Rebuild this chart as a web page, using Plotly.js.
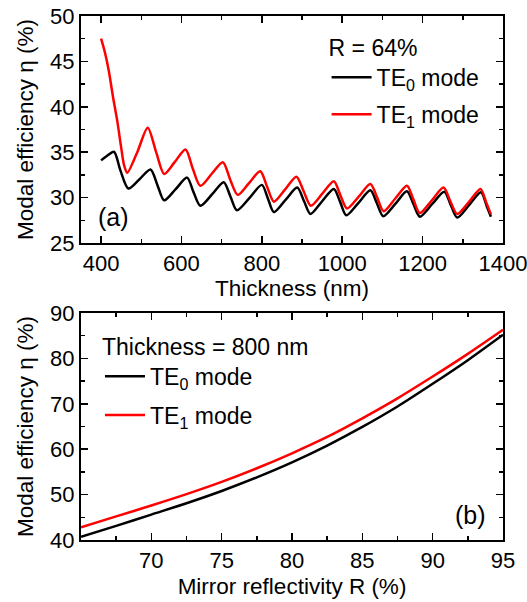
<!DOCTYPE html>
<html>
<head>
<meta charset="utf-8">
<script src="https://cdn.plot.ly/plotly-3.0.1.min.js"></script>
<style>html,body{margin:0;padding:0;background:#fff;}#chart{width:527px;height:602px;}</style>
</head>
<body>
<div id="chart"></div>
<script>
// Panel (a): modal efficiency vs thickness, R = 64%
const thicknessTE0 = [400, 415, 432, 448, 468, 495, 523, 540, 557, 585, 614, 630, 647, 677, 705, 722, 738, 770, 800, 815, 830, 860, 888, 905, 921, 950, 979, 995, 1010, 1040, 1070, 1086, 1102, 1132, 1161, 1177, 1193, 1224, 1254, 1270, 1286, 1316, 1345, 1360, 1370];
const etaTE0 = [34.1, 34.6, 35.05, 33.0, 31.0, 32.0, 33.1, 31.4, 29.7, 30.9, 32.2, 30.6, 29.1, 30.4, 31.7, 30.1, 28.6, 30.0, 31.4, 29.9, 28.4, 29.8, 31.1, 29.6, 28.2, 29.6, 30.95, 29.5, 28.05, 29.4, 30.8, 29.4, 27.95, 29.3, 30.7, 29.3, 27.9, 29.3, 30.65, 29.2, 27.8, 29.2, 30.6, 29.0, 27.9];
const thicknessTE1 = [400, 410, 419, 430, 440, 450, 457, 465, 490, 516, 537, 557, 583, 610, 628, 647, 675, 703, 721, 740, 768, 796, 813, 830, 858, 886, 904, 922, 950, 979, 995, 1012, 1041, 1070, 1087, 1103, 1132, 1161, 1177, 1193, 1223, 1252, 1269, 1286, 1315, 1344, 1358, 1370];
const etaTE1 = [47.5, 45.9, 44.0, 41.0, 38.5, 35.5, 33.6, 32.75, 35.0, 37.7, 35.0, 32.6, 33.9, 35.3, 33.2, 31.3, 32.6, 33.9, 32.0, 30.3, 31.6, 32.9, 31.2, 29.55, 30.9, 32.3, 30.7, 29.1, 30.4, 31.8, 30.3, 28.8, 30.1, 31.5, 30.0, 28.5, 29.9, 31.3, 29.8, 28.3, 29.7, 31.1, 29.6, 28.2, 29.5, 30.95, 29.5, 28.15];

// Panel (b): modal efficiency vs mirror reflectivity, thickness = 800 nm
const reflectivity = [65, 67.5, 70, 72.5, 75, 77.5, 80, 82.5, 85, 87.5, 90, 92.5, 95];
const etaTE0b = [40.7, 43.1, 45.6, 48.1, 50.8, 53.8, 57.1, 60.8, 64.9, 69.4, 74.4, 79.6, 85.2];
const etaTE1b = [42.8, 45.2, 47.6, 50.1, 52.8, 55.8, 59.1, 62.7, 66.8, 71.2, 76.0, 81.0, 86.3];

const seriesNames = ['TE<sub>0</sub> mode', 'TE<sub>1</sub> mode'];
const seriesColors = ['#000000', '#ff0000'];
const xTicksA = [400, 600, 800, 1000, 1200, 1400];
const xTicksB = [70, 75, 80, 85, 90, 95];

const FONT = 'Arial, "Liberation Sans", sans-serif';

const traces = [
  {x: thicknessTE0, y: etaTE0, xaxis: 'x', yaxis: 'y', legend: 'legend', legendgroup: 'a0', name: seriesNames[0]},
  {x: thicknessTE1, y: etaTE1, xaxis: 'x', yaxis: 'y', legend: 'legend', legendgroup: 'a1', name: seriesNames[1]},
  {x: reflectivity, y: etaTE0b, xaxis: 'x2', yaxis: 'y2', legend: 'legend2', legendgroup: 'b0', name: seriesNames[0]},
  {x: reflectivity, y: etaTE1b, xaxis: 'x2', yaxis: 'y2', legend: 'legend2', legendgroup: 'b1', name: seriesNames[1]}
].map((t, i) => Object.assign(t, {
  type: 'scatter', mode: 'lines',
  line: {color: seriesColors[i % 2], width: 2.5, shape: 'spline', smoothing: 0.8}
}));

function axisBase() {
  return {
    showline: true, linecolor: '#000', linewidth: 2, mirror: 'ticks',
    ticks: 'inside', ticklen: 7, tickwidth: 1.5, tickcolor: '#000',
    showgrid: false, zeroline: false, automargin: false,
    ticklabeloverflow: 'allow',
    tickfont: {family: FONT, size: 22, color: '#000'}
  };
}

const yTitle = 'Modal efficiency \u03b7 (%)';
const titleFont = {family: FONT, size: 22.5, color: '#000'};
const minorBase = {ticks: 'inside', ticklen: 4, tickwidth: 1.5, tickcolor: '#000', tick0: 0};

const layout = {
  width: 527, height: 602,
  margin: {l: 81, r: 24, t: 16, b: 62},
  paper_bgcolor: '#fff', plot_bgcolor: '#fff',
  font: {family: FONT, color: '#000'},
  xaxis: Object.assign(axisBase(), {
    anchor: 'y', domain: [0, 1], range: [350, 1400],
    tickvals: xTicksA,
    minor: Object.assign({dtick: 100}, minorBase),
    title: {text: 'Thickness (nm)', standoff: 4, font: titleFont}
  }),
  yaxis: Object.assign(axisBase(), {
    anchor: 'x', domain: [0.5668, 1], range: [25, 50], dtick: 5, tick0: 0,
    minor: Object.assign({dtick: 2.5}, minorBase),
    title: {text: yTitle, standoff: 10, font: titleFont}
  }),
  xaxis2: Object.assign(axisBase(), {
    anchor: 'y2', domain: [0, 1], range: [65, 95],
    tickvals: xTicksB,
    minor: Object.assign({dtick: 2.5}, minorBase),
    title: {text: 'Mirror reflectivity R (%)', standoff: 6, font: titleFont}
  }),
  yaxis2: Object.assign(axisBase(), {
    anchor: 'x2', domain: [0, 0.4332], range: [40, 90], dtick: 10, tick0: 0,
    minor: Object.assign({dtick: 5}, minorBase),
    title: {text: yTitle, standoff: 10, font: titleFont}
  }),
  legend: {
    x: 0.582, y: 0.981, xanchor: 'left', yanchor: 'top',
    bgcolor: 'rgba(0,0,0,0)', borderwidth: 0,
    font: {family: FONT, size: 23, color: '#000'},
    title: {text: 'R = 64%', font: {family: FONT, size: 23, color: '#000'}},
    tracegroupgap: 4, itemwidth: 40
  },
  legend2: {
    x: 0.045, y: 0.4107, xanchor: 'left', yanchor: 'top',
    bgcolor: 'rgba(0,0,0,0)', borderwidth: 0,
    font: {family: FONT, size: 23, color: '#000'},
    title: {text: 'Thickness = 800 nm', font: {family: FONT, size: 23, color: '#000'}},
    tracegroupgap: 6, itemwidth: 40
  },
  showlegend: true,
  annotations: [
    {text: '(a)', xref: 'x', yref: 'y', x: 430, y: 27.83, showarrow: false, font: {family: FONT, size: 25, color: '#000'}},
    {text: '(b)', xref: 'x2', yref: 'y2', x: 92.67, y: 45.5, showarrow: false, font: {family: FONT, size: 25, color: '#000'}}
  ]
};

Plotly.newPlot('chart', traces, layout, {displayModeBar: false, staticPlot: true});
</script>
</body>
</html>
